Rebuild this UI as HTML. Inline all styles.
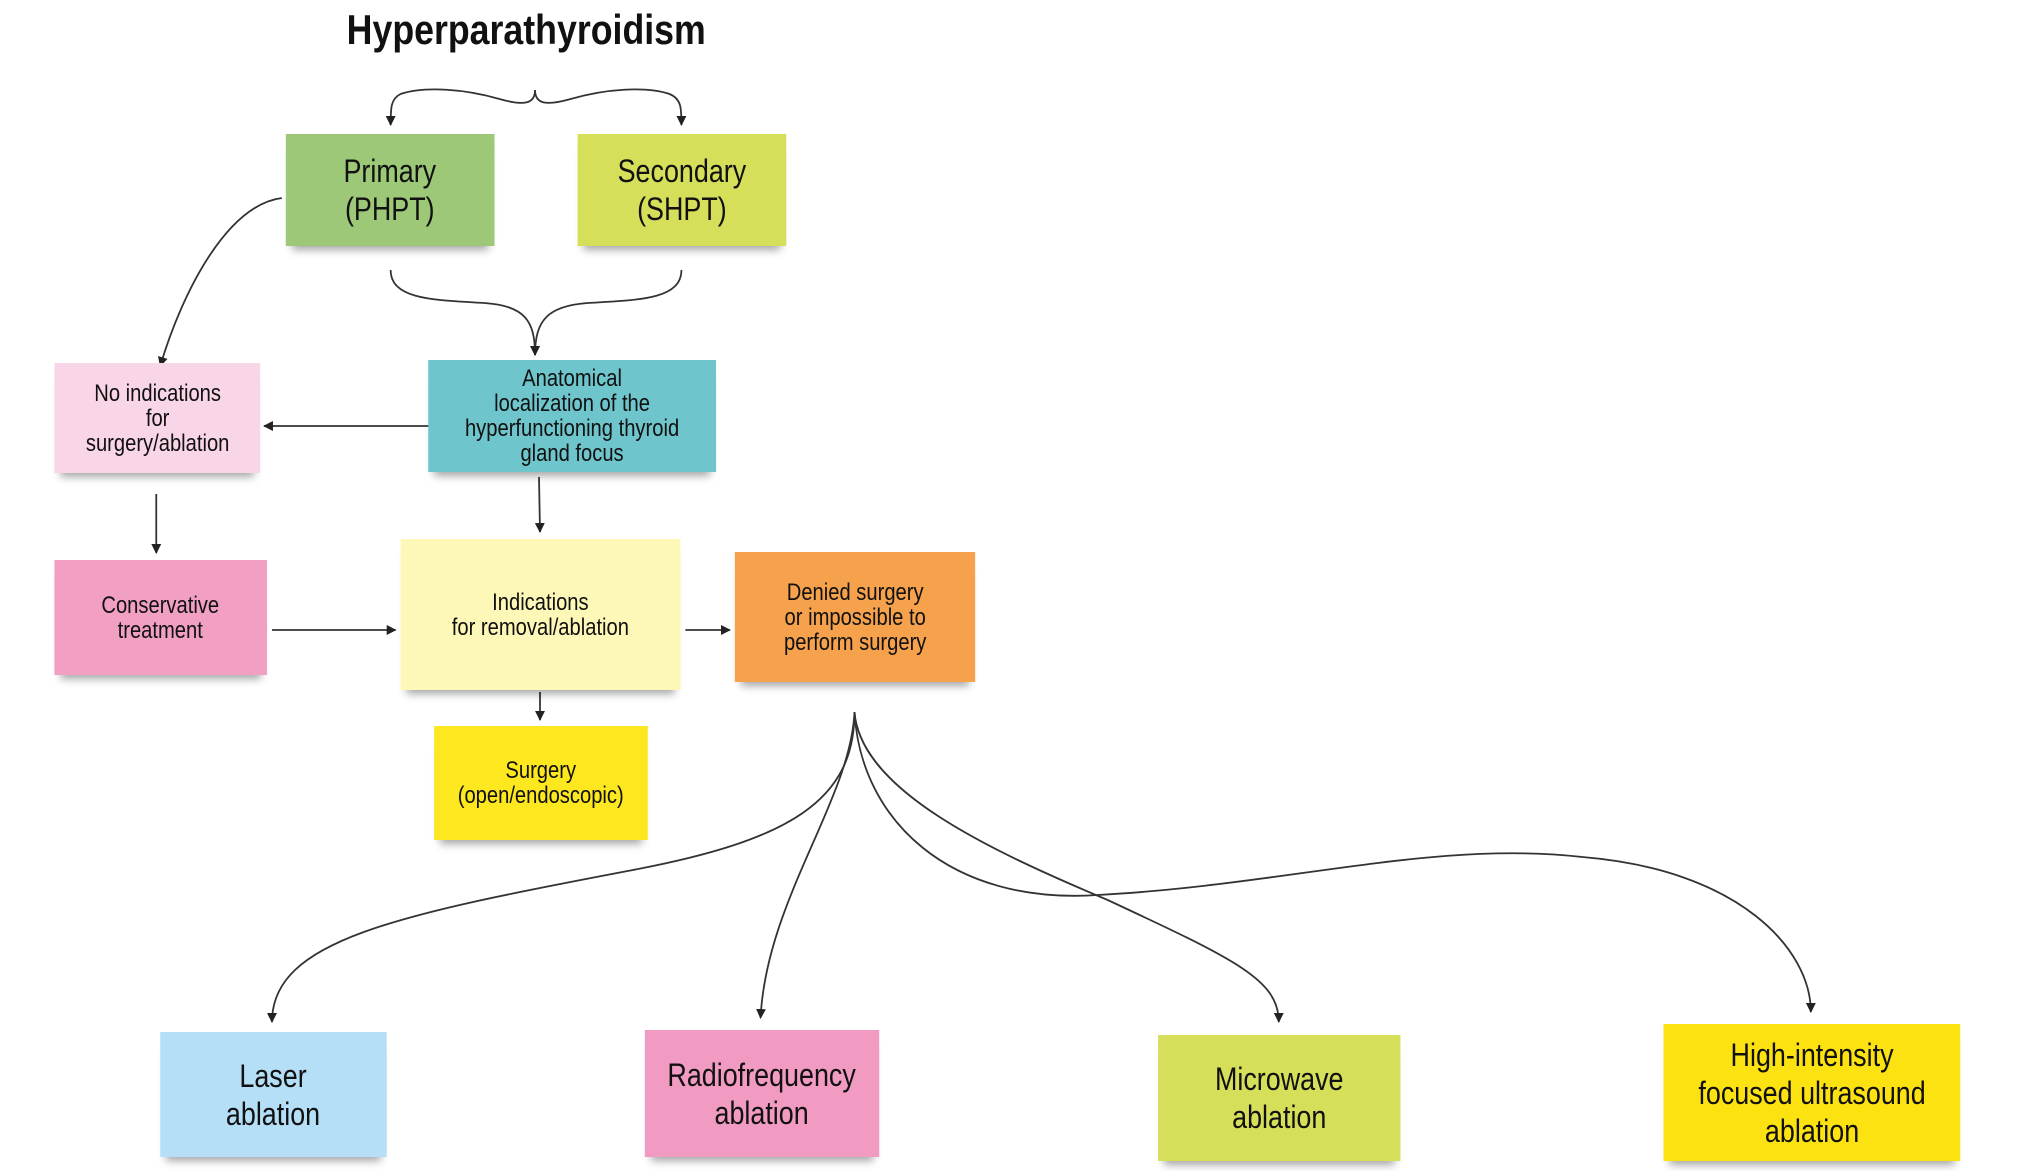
<!DOCTYPE html>
<html><head><meta charset="utf-8"><style>
body{margin:0;background:#fff;}
#c{position:relative;width:2020px;height:1171px;overflow:hidden;background:#fff;font-family:"Liberation Sans Narrow","Liberation Sans",sans-serif;}
#in{position:absolute;left:0;top:0;width:2020px;height:1171px;transform:scaleX(0.989);transform-origin:0 0;}
.b{position:absolute;display:flex;align-items:center;justify-content:center;text-align:center;color:#111;box-shadow:0 10px 8px -6px rgba(0,0,0,.35);}
.b span{display:inline-block;transform:scaleX(0.85);white-space:nowrap;}
.s{font-size:24px;line-height:25px;}
.l{font-size:32px;line-height:38px;}
svg{position:absolute;left:0;top:0;}
</style></head><body><div id="c">
<div style="position:absolute;left:0;width:1052px;top:6px;text-align:center;font-size:42px;font-weight:bold;color:#111;"><span style="display:inline-block;transform:scaleX(0.85);">Hyperparathyroidism</span></div>
<div id="in">
<svg width="2020" height="1171" viewBox="0 0 2020 1171">
<defs><marker id="a" markerWidth="10" markerHeight="14" refX="9" refY="7" orient="auto" markerUnits="userSpaceOnUse"><path d="M0,2 L10,7 L0,12 z" fill="#222"/></marker></defs>
<g fill="none" stroke="#333" stroke-width="1.8" marker-end="url(#a)">
<path d="M541,90 C541,104 530,106 505,99 C470,89 430,86 405,94 C395,99 395,108 395,125"/>
<path d="M541,90 C541,104 552,106 577,99 C612,89 652,86 677,94 C689,99 689,108 689,125"/>
<path d="M395,270 C395,300 440,300 490,303 C530,306 541,320 541,355"/>
<path d="M689,270 C689,300 644,300 594,303 C554,306 541,320 541,355"/>
<path d="M285,198 C230,205 185,290 162,366"/>
<path d="M434,426 L267,426"/>
<path d="M158,494 L158,553"/>
<path d="M545,477 L546,532"/>
<path d="M275,630 L400,630"/>
<path d="M693,630 L738,630"/>
<path d="M546,692 L546,720"/>
<path d="M864,712 C864,800 800,840 640,870 C400,915 275,940 275,1022"/>
<path d="M864,712 C860,800 775,900 769,1018"/>
<path d="M864,712 C870,790 1000,850 1120,900 C1250,960 1293,980 1293,1022"/>
<path d="M864,712 C870,820 960,905 1110,895 C1300,885 1450,840 1600,857 C1760,870 1831,950 1831,1012"/>
</g>
</svg>
<div class="b l" style="left:289px;top:134px;width:211px;height:112px;background:#9dc877;"><span>Primary<br>(PHPT)</span></div>
<div class="b l" style="left:584px;top:134px;width:211px;height:112px;background:#d6df59;"><span>Secondary<br>(SHPT)</span></div>
<div class="b s" style="left:55px;top:363px;width:208px;height:110px;background:#f9d5e8;"><span>No indications<br>for<br>surgery/ablation</span></div>
<div class="b s" style="left:433px;top:360px;width:291px;height:112px;background:#6ec5cc;"><span>Anatomical<br>localization of the<br>hyperfunctioning thyroid<br>gland focus</span></div>
<div class="b s" style="left:55px;top:560px;width:215px;height:115px;background:#f1a0c4;"><span>Conservative<br>treatment</span></div>
<div class="b s" style="left:405px;top:539px;width:283px;height:151px;background:#fef8b8;"><span>Indications<br>for removal/ablation</span></div>
<div class="b s" style="left:743px;top:552px;width:243px;height:130px;background:#f6a24d;"><span>Denied surgery<br>or impossible to<br>perform surgery</span></div>
<div class="b s" style="left:439px;top:726px;width:216px;height:114px;background:#fde81f;"><span>Surgery<br>(open/endoscopic)</span></div>
<div class="b l" style="left:162px;top:1032px;width:229px;height:125px;background:#b5dff7;"><span>Laser<br>ablation</span></div>
<div class="b l" style="left:652px;top:1030px;width:237px;height:127px;background:#f19bc2;"><span>Radiofrequency<br>ablation</span></div>
<div class="b l" style="left:1171px;top:1035px;width:245px;height:126px;background:#d6df59;"><span>Microwave<br>ablation</span></div>
<div class="b l" style="left:1682px;top:1024px;width:300px;height:137px;background:#fde212;"><span>High-intensity<br>focused ultrasound<br>ablation</span></div>
</div>
</div></body></html>
